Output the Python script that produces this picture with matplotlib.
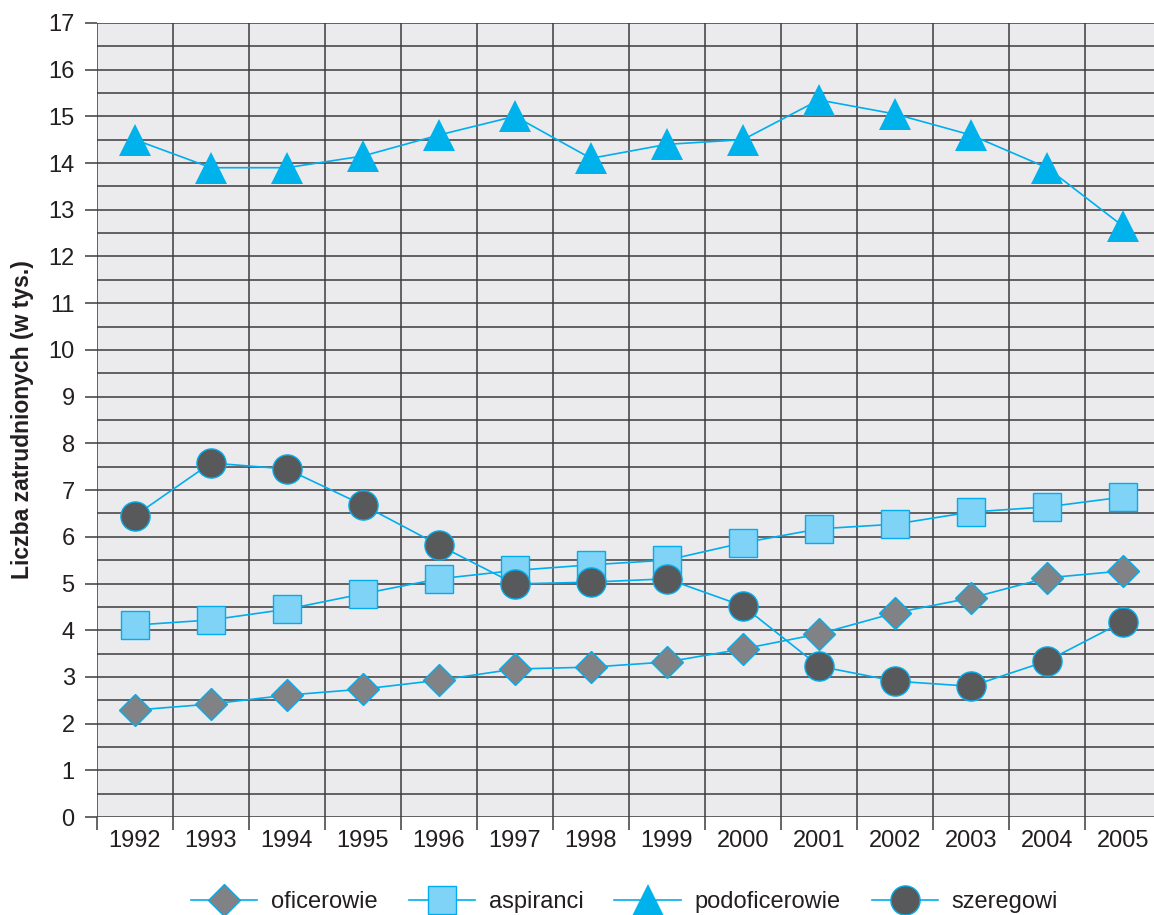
#!/usr/bin/env python3

import numpy
import matplotlib
matplotlib.use("Agg")
import matplotlib.pyplot as plt

#-------------------------------------------------------------
years = ["1992", "1993", "1994", "1995", "1996", "1997", "1998",
         "1999", "2000", "2001", "2002", "2003", "2004", "2005"]

oficerowie = [2.29, 2.42, 2.61, 2.74, 2.93, 3.17, 3.21,
              3.32, 3.60, 3.92, 4.37, 4.69, 5.12, 5.27]
aspiranci = [4.11, 4.22, 4.45, 4.78, 5.10, 5.28, 5.40,
             5.50, 5.87, 6.17, 6.27, 6.53, 6.64, 6.85]
podoficerowie = [14.50, 13.90, 13.90, 14.15, 14.60, 15.00, 14.10,
                 14.40, 14.50, 15.35, 15.05, 14.60, 13.90, 12.65]
szeregowi = [6.45, 7.58, 7.45, 6.68, 5.82, 4.99, 5.03,
             5.10, 4.52, 3.23, 2.91, 2.80, 3.34, 4.18]

#-------------------------------------------------------------
def main():

    plt.rcParams['font.family'] = ['Liberation Sans', 'DejaVu Sans']
    txt = "#231f20"
    blue = "#00aeef"
    grid = "#3c3c3e"

    fig = plt.figure(figsize=(11.54, 9.15), dpi=100)
    ax = fig.add_axes([0.084, 0.107, 0.922, 0.868])
    ax.set_facecolor("#ebebed")

    x = numpy.arange(len(years))

    #series
    common = dict(color=blue, linewidth=1.2, markeredgecolor=blue,
                  markeredgewidth=1.0, zorder=3)
    ax.plot(x, oficerowie, marker="D", markersize=16.5,
            markerfacecolor="#808285", label="oficerowie", **common)
    ax.plot(x, aspiranci, marker="s", markersize=20,
            markerfacecolor="#7fd3f7", label="aspiranci", **common)
    ax.plot(x, podoficerowie, marker="^", markersize=23,
            markerfacecolor="#00b2ec", markeredgewidth=0,
            color=blue, linewidth=1.2, zorder=3, label="podoficerowie")
    ax.plot(x, szeregowi, marker="o", markersize=21,
            markerfacecolor="#58595b", label="szeregowi", **common)

    #grid
    ax.set_xlim(-0.5, len(years) - 0.5)
    ax.set_ylim(0, 17)
    for yv in numpy.arange(0, 17.01, 0.5):
        ax.axhline(yv, color=grid, linewidth=1.1, zorder=1)
    for xv in numpy.arange(-0.5, len(years), 1.0):
        ax.axvline(xv, color=grid, linewidth=1.1, zorder=1)

    for s in ax.spines.values():
        s.set_visible(False)

    ax.set_yticks(range(0, 18))
    ax.set_yticklabels([str(v) for v in range(0, 18)])
    ax.set_xticks(x)
    ax.set_xticklabels(years)
    ax.set_xticks(numpy.arange(-0.5, len(years), 1.0), minor=True)
    ax.tick_params(axis="y", length=9, width=1.1, color=grid,
                   labelsize=17, labelcolor=txt, pad=7)
    ax.tick_params(axis="x", which="major", length=0,
                   labelsize=17, labelcolor=txt, pad=9)
    ax.tick_params(axis="x", which="minor", length=9, width=1.1, color=grid)

    ax.set_ylabel("Liczba zatrudnionych (w tys.)", fontsize=16.5,
                  fontweight="bold", color=txt, labelpad=10)

    ax.legend(loc="center", bbox_to_anchor=(0.496, -0.107), ncol=4,
              frameon=False, fontsize=17, handlelength=2.8,
              columnspacing=1.3, handletextpad=0.6, labelcolor=txt)

    fig.savefig("out.png", dpi=100)
    plt.close(fig)

#-------------------------------------------------------------
if __name__ == "__main__":
    main()
